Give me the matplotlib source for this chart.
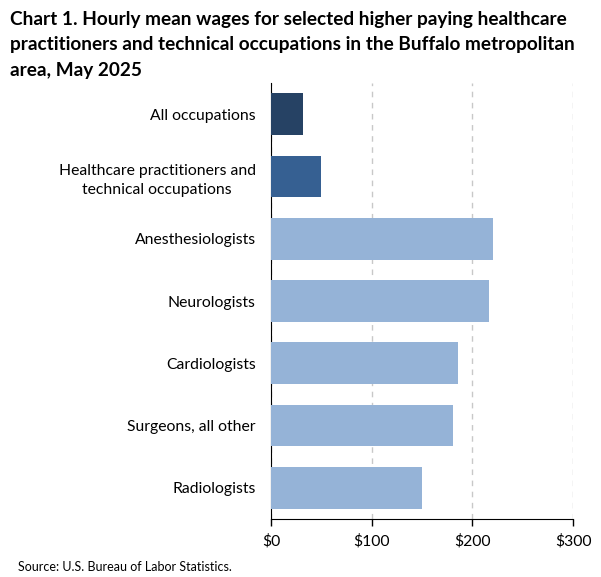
import matplotlib
matplotlib.use("Agg")
import matplotlib.pyplot as plt

categories = ["All occupations", "Healthcare practitioners and\ntechnical occupations",
              "Anesthesiologists", "Neurologists", "Cardiologists",
              "Surgeons, all other", "Radiologists"]
wages = [31.5, 49.4, 220.2, 216.2, 185.4, 180.4, 149.6]
colors = ["#264264", "#366092", "#95b3d7", "#95b3d7", "#95b3d7", "#95b3d7", "#95b3d7"]
xticks = [0, 100, 200, 300]
xticklabels = ["$0", "$100", "$200", "$300"]

plt.rcParams['font.family'] = ['Lato', 'DejaVu Sans']

fig = plt.figure(figsize=(6.01, 5.77), dpi=100)
ax = fig.add_axes([271/601, 1-519/577, (573-271)/601, (519-83)/577])

y = list(range(len(categories)))
ax.barh(y, wages, height=0.67, color=colors, zorder=3)
ax.set_ylim(len(categories)-0.5, -0.5)
ax.set_xlim(0, 300)
ax.set_yticks(y)
ax.set_yticklabels(categories, fontsize=11.3, linespacing=1.5, multialignment='center')
ax.tick_params(axis='y', length=0, pad=11)
ax.set_xticks(xticks)
ax.set_xticklabels(xticklabels, fontsize=11.3)
ax.tick_params(axis='x', length=5, width=1, direction='out', pad=6)
ax.grid(axis='x', color='#c8c8c8', linestyle=(0, (4, 4)), linewidth=1, zorder=0)
for s in ['top', 'right']:
    ax.spines[s].set_visible(False)
ax.spines['left'].set_color('black')
ax.spines['bottom'].set_color('black')

fig.text(10/601, 1-11/577, "Chart 1. Hourly mean wages for selected higher paying healthcare\npractitioners and technical occupations in the Buffalo metropolitan\narea, May 2025",
         fontsize=13.7, fontweight='bold', va='top', ha='left', linespacing=1.6)
fig.text(18/601, 1-567/577, "Source: U.S. Bureau of Labor Statistics.", fontsize=9, va='center', ha='left')

fig.savefig("out.png", dpi=100)
